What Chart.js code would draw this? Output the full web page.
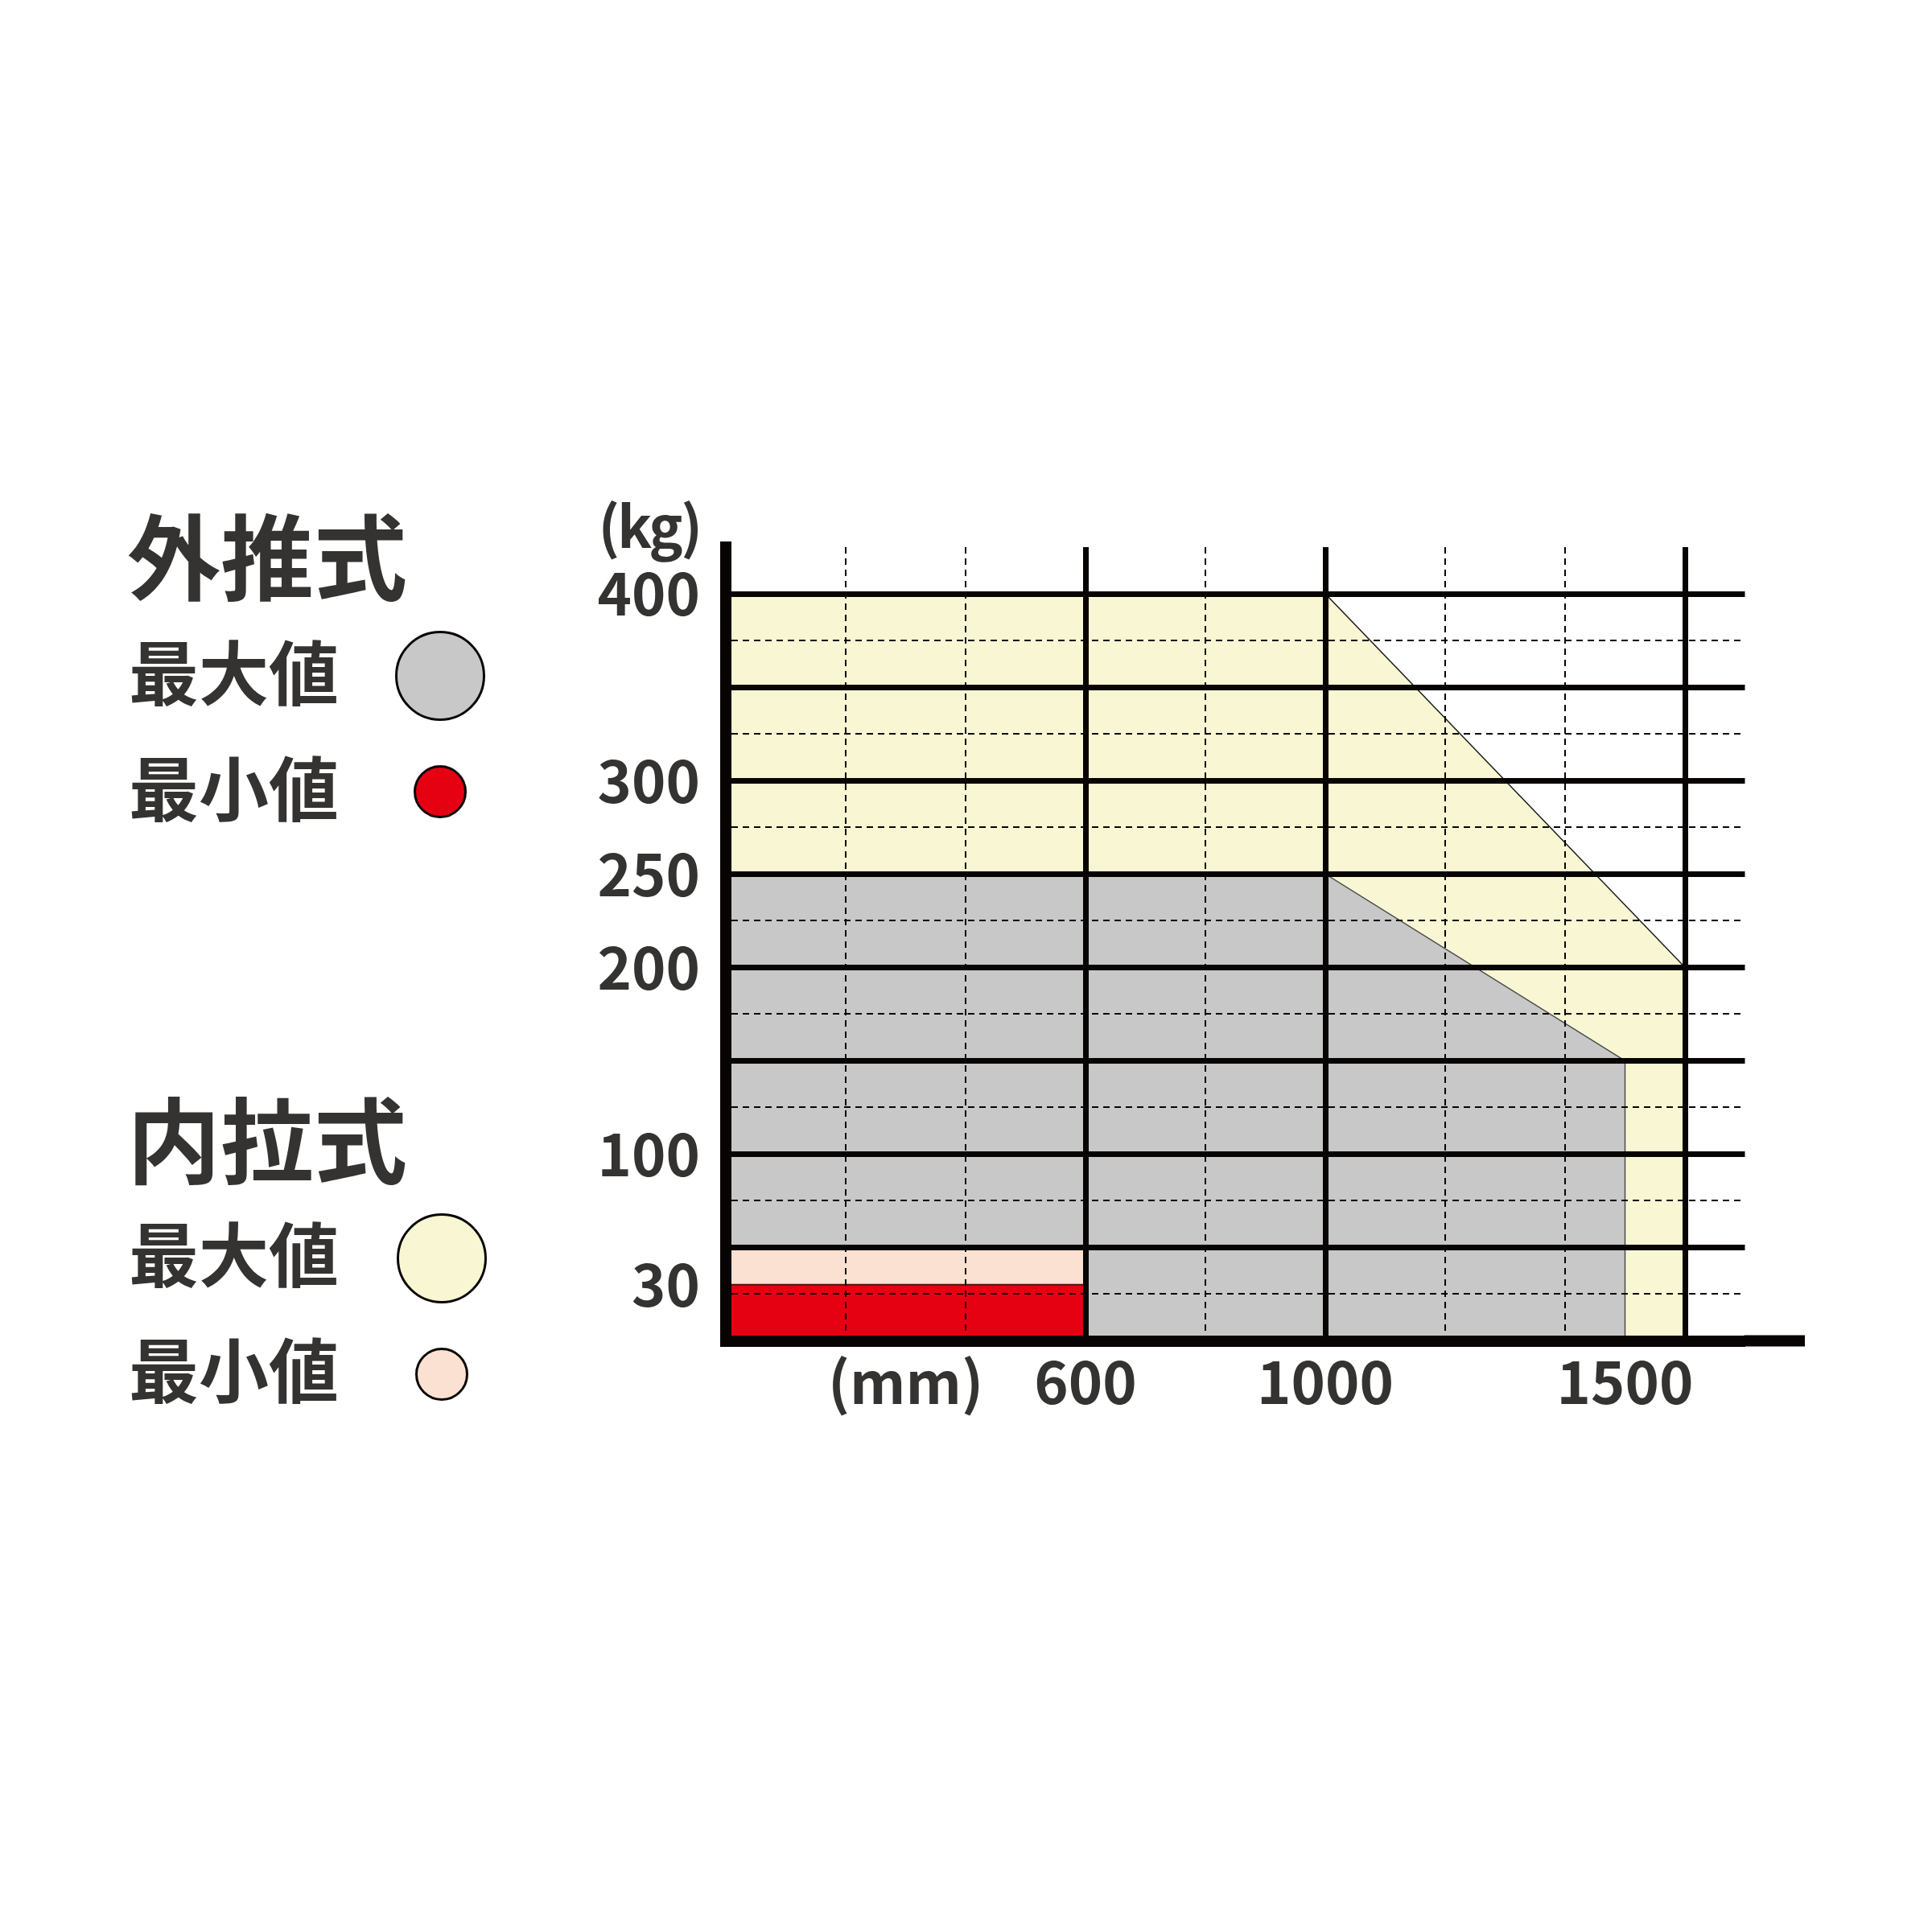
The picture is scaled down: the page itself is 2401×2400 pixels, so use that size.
<!DOCTYPE html>
<html lang="ja">
<head>
<meta charset="utf-8">
<title>外推式 / 内拉式</title>
<script src="https://cdn.jsdelivr.net/npm/chart.js@4.4.0/dist/chart.umd.min.js"></script>
<style>
    html, body { margin: 0; padding: 0; background: #ffffff; }
    #wrap { position: relative; width: 2401px; height: 2400px; }
    #chart { position: absolute; left: 0; top: 0; }
    .txt {
        position: absolute;
        font-family: 'Noto Sans CJK JP', 'Noto Sans CJK SC', sans-serif;
        font-weight: 700;
        color: #343331;
        line-height: 1;
        white-space: nowrap;
    }
    .head { font-size: 116px; left: 158px; }
    .sub  { font-size: 87px;  left: 160px; }
    .dot  { position: absolute; border: 3px solid #0a0605; border-radius: 50%; box-sizing: border-box; }
</style>
</head>
<body>
<div id="wrap">
    <canvas id="chart" width="2401" height="2400"></canvas>

    <div class="txt head" style="top:628px;">外推式</div>
    <div class="txt sub"  style="top:789px;">最大値</div>
    <div class="txt sub"  style="top:933px;">最小値</div>
    <div class="dot" style="left:491px; top:784px; width:112px; height:112px; background:#c8c8c8;"></div>
    <div class="dot" style="left:514px; top:951px; width:66px; height:66px; background:#e50012;"></div>

    <div class="txt head" style="top:1353px;">内拉式</div>
    <div class="txt sub"  style="top:1512px;">最大値</div>
    <div class="txt sub"  style="top:1656px;">最小値</div>
    <div class="dot" style="left:493px; top:1508px; width:112px; height:112px; background:#f9f7d3;"></div>
    <div class="dot" style="left:516px; top:1675px; width:66px; height:66px; background:#fbe1d1;"></div>

    <div class="txt" style="font-size:71px; letter-spacing:-3px; right:1531px; top:615px;">(kg)</div>
</div>

<script>
/*
 *  load chart: stroke (mm) vs load (kg)
 */

// 外推式 最大値 (grey)
var pushMaxX = [0, 1000, 1500, 1500];
var pushMaxY = [250, 250, 150, 0];

// 外推式 最小値 (red)
var pushMinX = [0, 600, 600];
var pushMinY = [30, 30, 0];

// 内拉式 最大値 (pale yellow)
var pullMaxX = [0, 1000, 1600, 1600];
var pullMaxY = [400, 400, 200, 0];

// 内拉式 最小値 (pale pink)
var pullMinX = [0, 600, 600];
var pullMinY = [50, 50, 0];

// axes
var xTickValues  = [0, 200, 300, 400, 600, 800, 1000, 1200, 1400, 1500, 1600];
var xMajorLines  = [600, 1000, 1600];
var xMinorLines  = [200, 400, 800, 1200, 1400];
var xTickLabels  = { 300: '(mm)', 600: '600', 1000: '1000', 1500: '1500' };

var yTickValues  = [0, 25, 30, 50, 75, 100, 125, 150, 175, 200, 225, 250, 275, 300, 325, 350, 375, 400, 425];
var yMajorLines  = [50, 100, 150, 200, 250, 300, 350, 400];
var yMinorLines  = [25, 75, 125, 175, 225, 275, 325, 375];
var yTickLabels  = [400, 300, 250, 200, 100, 30];

var X_MAX = 1700, X_AXIS_END = 1800, Y_MAX = 425;

var INK = '#070403';
var TEXT = '#343331';
var FONT = { family: "'Noto Sans CJK JP', 'Noto Sans CJK SC', sans-serif", size: 72, weight: '700' };

function points(xs, ys) {
    return xs.map(function (x, i) { return { x: x, y: ys[i] }; });
}

function lineWidthFor(major, minor) {
    return function (ctx) {
        if (!ctx.tick) return 0;
        var v = ctx.tick.value;
        if (major.indexOf(v) >= 0) return 7;
        if (minor.indexOf(v) >= 0) return 2;
        return 0;
    };
}

function dashFor(minor) {
    return function (ctx) {
        if (ctx.tick && minor.indexOf(ctx.tick.value) >= 0) return [8, 6];
        return [];
    };
}

function area(label, xs, ys, fill, stroke, width) {
    return {
        label: label,
        data: points(xs, ys),
        backgroundColor: fill,
        borderColor: stroke,
        borderWidth: width,
        pointRadius: 0,
        tension: 0,
        fill: 'origin'
    };
}

/* x axis runs a bit past the grid */
var axisExtension = {
    id: 'axisExtension',
    afterDraw: function (chart) {
        var xs = chart.scales.x, ys = chart.scales.y, ctx = chart.ctx;
        var y0 = ys.getPixelForValue(0);
        ctx.save();
        ctx.strokeStyle = INK;
        ctx.lineWidth = 14;
        ctx.beginPath();
        ctx.moveTo(chart.chartArea.right - 1, y0);
        ctx.lineTo(xs.getPixelForValue(X_AXIS_END), y0);
        ctx.stroke();
        ctx.restore();
    }
};

new Chart(document.getElementById('chart').getContext('2d'), {
    type: 'line',
    data: {
        datasets: [
            area('外推式 最小値', pushMinX, pushMinY, '#e50012', '#5a0e0a', 2),
            area('内拉式 最小値', pullMinX, pullMinY, '#fbe1d1', 'rgba(0,0,0,0)', 0),
            area('外推式 最大値', pushMaxX, pushMaxY, '#c8c8c8', '#4a4a4a', 1.5),
            area('内拉式 最大値', pullMaxX, pullMaxY, '#f9f7d3', '#1a1a1a', 1.5)
        ]
    },
    options: {
        responsive: false,
        animation: false,
        layout: { padding: { top: 680, right: 232.5, left: 0, bottom: 0 } },
        plugins: {
            legend: { display: false },
            title: { display: false },
            tooltip: { enabled: false }
        },
        scales: {
            x: {
                type: 'linear',
                position: 'bottom',
                min: 0,
                max: X_MAX,
                afterBuildTicks: function (scale) {
                    scale.ticks = xTickValues.map(function (v) { return { value: v }; });
                },
                afterFit: function (scale) { scale.height = 733.5; },
                grid: {
                    z: 1,
                    drawTicks: false,
                    color: INK,
                    lineWidth: lineWidthFor(xMajorLines, xMinorLines)
                },
                border: { z: 2, width: 14, color: INK, dash: dashFor(xMinorLines) },
                ticks: {
                    autoSkip: false,
                    maxRotation: 0,
                    padding: 8,
                    color: TEXT,
                    font: FONT,
                    callback: function (v) { return xTickLabels[v] || ''; }
                }
            },
            y: {
                type: 'linear',
                min: 0,
                max: Y_MAX,
                afterBuildTicks: function (scale) {
                    scale.ticks = yTickValues.map(function (v) { return { value: v }; });
                },
                afterFit: function (scale) { scale.width = 902; },
                grid: {
                    z: 1,
                    drawTicks: false,
                    color: INK,
                    lineWidth: lineWidthFor(yMajorLines, yMinorLines)
                },
                border: { z: 2, width: 14, color: INK, dash: dashFor(yMinorLines) },
                ticks: {
                    autoSkip: false,
                    padding: 32,
                    color: TEXT,
                    font: FONT,
                    callback: function (v) { return yTickLabels.indexOf(v) >= 0 ? String(v) : ''; }
                }
            }
        }
    },
    plugins: [axisExtension]
});
</script>
</body>
</html>
